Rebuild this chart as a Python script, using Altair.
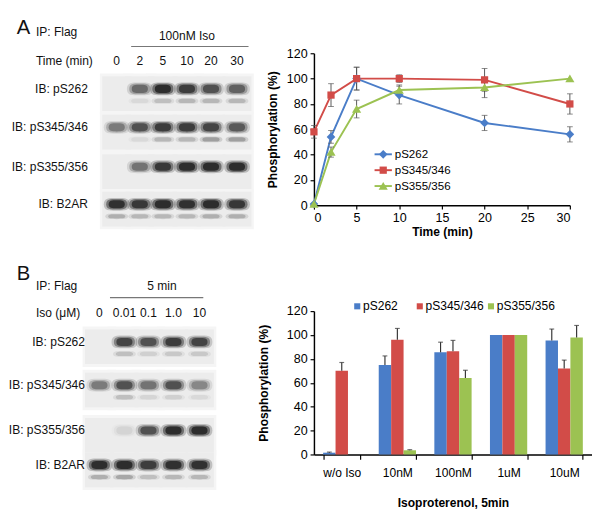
import altair as alt
import pandas as pd

FONT = "Liberation Sans"

# ---------------- Panel A: time course (100nM Iso) ----------------
time_min = [0, 2, 5, 10, 20, 30]
series_names = ["pS262", "pS345/346", "pS355/356"]
a_ps262 = [1, 54, 100, 87, 65, 56]
a_ps262_err = [0, 5, 9, 7, 6, 6]
a_ps345 = [58, 87, 100, 100, 99, 80]
a_ps345_err = [5, 9, 9, 3, 9, 8]
a_ps355 = [1, 42, 76, 91, 93, 100]
a_ps355_err = [0, 4, 7, 4, 8, 0]

# ---------------- Panel B: dose response (5 min) ----------------
conc_labels = ["w/o Iso", "10nM", "100nM", "1uM", "10uM"]
b_ps262 = [1.5, 75, 85.5, 100, 95.5]
b_ps262_err = [0.5, 7.5, 8.5, 0, 9.5]
b_ps345 = [70, 96, 86.5, 100, 72]
b_ps345_err = [7, 9.5, 9, 0, 7]
b_ps355 = [0, 3.5, 64, 100, 98]
b_ps355_err = [0, 0.5, 6.5, 0, 10]

# ---------------- Western blot band intensities (0-1) ----------------
blot_rows = ["IB: pS262", "IB: pS345/346", "IB: pS355/356", "IB: B2AR"]
blotA_lanes = ["0", "2", "5", "10", "20", "30"]
blotA_main = [[0, .55, 1, .85, .7, .6],
              [.45, .7, .85, .85, .8, .65],
              [0, .5, .9, 1, 1, 1],
              [.95, .9, 1, .95, 1, .9]]
blotA_lower = [[0, .1, .25, .3, .3, .3],
               [0, .1, .3, .3, .45, .45],
               [0, 0, 0, 0, 0, 0],
               [.35, .3, .3, .3, .35, .35]]
blotB_lanes = ["0", "0.01", "0.1", "1.0", "10"]
blotB_main = [[0, .8, .7, .85, .8],
              [.45, .7, .5, .7, .4],
              [0, .08, .7, 1, 1],
              [1, 1, .85, .95, .95]]
blotB_lower = [[0, .25, .15, .2, .2],
               [0, .25, .12, .15, .1],
               [0, 0, 0, 0, 0],
               [.35, .4, .25, .3, .3]]

line_colors = ["#4a7dc8", "#d24c48", "#9cc252"]
bar_colors = ["#4f81bd", "#c0504d", "#9bbb59"]
marker_paths = [
    "M0,-0.55L0.55,0L0,0.55L-0.55,0Z",
    "M-0.46,-0.46L0.46,-0.46L0.46,0.46L-0.46,0.46Z",
    "M0,-0.52L0.58,0.46L-0.58,0.46Z",
]
PILL = "M-1,0C-1,-0.5,-0.6,-0.5,0,-0.5C0.6,-0.5,1,-0.5,1,0C1,0.5,0.6,0.5,0,0.5C-0.6,0.5,-1,0.5,-1,0Z"
THIN = "M-1,0C-1,-0.25,-0.6,-0.25,0,-0.25C0.6,-0.25,1,-0.25,1,0C1,0.25,0.6,0.25,0,0.25C-0.6,0.25,-1,0.25,-1,0Z"
CELL = "M-1,-1.2L1,-1.2L1,1.2L-1,1.2Z"
YT = "Phosphorylation (%)"


def long_df(xname, xs, vals, errs):
    rows = []
    for s, v, e in zip(series_names, vals, errs):
        for x, vi, ei in zip(xs, v, e):
            rows.append({xname: x, "series": s, "val": vi, "err": ei})
    return pd.DataFrame(rows)


def label(t, x, y, align="left", size=12.5, weight="normal"):
    return alt.Chart(pd.DataFrame({"t": [t]})).mark_text(
        align=align, baseline="middle", font=FONT, fontSize=size, color="#111", fontWeight=weight
    ).encode(x=alt.value(x), y=alt.value(y), text="t:N")


def hrule(x1, x2, y):
    return alt.Chart(pd.DataFrame({"a": [0]})).mark_rule(color="#777", strokeWidth=1.2).encode(
        x=alt.value(x1), x2=alt.value(x2), y=alt.value(y))


def blot_panel(lanes, main, lower, lane_px, row_px, W, H, label_x, lane_y, headers, rule):
    recs = []
    for r in range(len(blot_rows)):
        for l in range(len(lanes)):
            recs.append({"ri": r, "li": l, "main": main[r][l], "lower": lower[r][l]})
    df = pd.DataFrame(recs)
    X = alt.X("li:Q", scale=alt.Scale(domain=list(range(len(lanes))), range=lane_px,
                                      nice=False, zero=False), axis=None)
    Y = alt.Y("ri:Q", scale=alt.Scale(domain=list(range(len(blot_rows))), range=row_px,
                                      nice=False, zero=False), axis=None)
    base = alt.Chart(df).encode(x=X, y=Y)
    op = lambda: alt.Opacity("o:Q", scale=None)
    layers = [
        base.mark_point(shape=CELL, size=1225, filled=True, color="#f5f5f5", opacity=1, yOffset=5),
        base.mark_point(shape=CELL, size=900, filled=True, color="#ececec", opacity=1, yOffset=5),
        base.transform_filter("datum.lower > 0").transform_calculate(o="datum.lower*0.3")
            .mark_point(shape=THIN, size=560, filled=True, color="#111", yOffset=12.5).encode(opacity=op()),
        base.transform_filter("datum.lower > 0").transform_calculate(o="datum.lower*0.55")
            .mark_point(shape=THIN, size=320, filled=True, color="#111", yOffset=12.5).encode(opacity=op()),
        base.transform_filter("datum.main > 0").transform_calculate(o="datum.main*0.22")
            .mark_point(shape=PILL, size=720, filled=True, color="#111").encode(opacity=op()),
        base.transform_filter("datum.main > 0").transform_calculate(o="datum.main*0.45")
            .mark_point(shape=PILL, size=480, filled=True, color="#111").encode(opacity=op()),
        base.transform_filter("datum.main > 0").transform_calculate(o="datum.main*0.7")
            .mark_point(shape=PILL, size=280, filled=True, color="#111").encode(opacity=op()),
        alt.Chart(pd.DataFrame({"ri": list(range(len(blot_rows))), "lab": blot_rows})).mark_text(
            align="right", baseline="middle", font=FONT, fontSize=12.5, color="#111"
        ).encode(x=alt.value(label_x), y=Y, text="lab:N"),
        alt.Chart(pd.DataFrame({"li": list(range(len(lanes))), "lab": lanes})).mark_text(
            align="center", baseline="middle", font=FONT, fontSize=12.5, color="#111"
        ).encode(x=X, y=alt.value(lane_y), text="lab:N"),
        hrule(*rule),
    ]
    for h in headers:
        layers.append(label(*h))
    return alt.layer(*layers).properties(width=W, height=H)


# ---------------- Line chart (A) ----------------
dfA = long_df("time", time_min, [a_ps262, a_ps345, a_ps355], [a_ps262_err, a_ps345_err, a_ps355_err])
xA = alt.X("time:Q", scale=alt.Scale(domain=[0, 30], nice=False, zero=False),
           axis=alt.Axis(values=[0, 5, 10, 15, 20, 25, 30], title="Time (min)", titlePadding=1))
yA_scale = alt.Scale(domain=[0, 120], nice=False)
yA_axis = alt.Axis(values=[0, 20, 40, 60, 80, 100, 120], titlePadding=7)
colA = alt.Scale(domain=series_names, range=line_colors)
shpA = alt.Scale(domain=series_names, range=marker_paths)
baseA = alt.Chart(dfA)
linesA = baseA.mark_line(strokeWidth=2).encode(
    x=xA, y=alt.Y("val:Q", scale=yA_scale, axis=yA_axis, title=YT),
    color=alt.Color("series:N", scale=colA, legend=None))
errA = baseA.transform_filter("datum.err > 0").transform_calculate(
    lo="datum.val - datum.err", hi="datum.val + datum.err")
errA_rule = errA.mark_rule(color="#555", strokeWidth=1).encode(
    x=xA, y=alt.Y("lo:Q", scale=yA_scale, axis=yA_axis, title=YT), y2="hi:Q")
errA_hi = errA.mark_tick(orient="horizontal", size=6, thickness=1, color="#555").encode(
    x=xA, y=alt.Y("hi:Q", scale=yA_scale, axis=yA_axis, title=YT))
errA_lo = errA.mark_tick(orient="horizontal", size=6, thickness=1, color="#555").encode(
    x=xA, y=alt.Y("lo:Q", scale=yA_scale, axis=yA_axis, title=YT))
pointsA = baseA.mark_point(filled=True, size=268, opacity=1).encode(
    x=xA, y=alt.Y("val:Q", scale=yA_scale, axis=yA_axis, title=YT),
    fill=alt.Fill("series:N", scale=colA, legend=None),
    shape=alt.Shape("series:N", scale=shpA, legend=None))
legA = []
for s, yy in zip(series_names, [105, 121.5, 138]):
    d = alt.Chart(pd.DataFrame({"series": [s]}))
    legA.append(d.mark_rule(strokeWidth=2).encode(
        x=alt.value(63), x2=alt.value(81), y=alt.value(yy),
        color=alt.Color("series:N", scale=colA, legend=None)))
    legA.append(d.mark_point(filled=True, size=268, opacity=1).encode(
        x=alt.value(72), y=alt.value(yy),
        fill=alt.Fill("series:N", scale=colA, legend=None),
        shape=alt.Shape("series:N", scale=shpA, legend=None)))
    legA.append(d.mark_text(align="left", baseline="middle", font=FONT, fontSize=12, color="black").encode(
        x=alt.value(84), y=alt.value(yy), text="series:N"))
lineA = alt.layer(linesA, errA_rule, errA_hi, errA_lo, pointsA, *legA).properties(width=266, height=158)

# ---------------- Bar chart (B) ----------------
dfB = long_df("conc", conc_labels, [b_ps262, b_ps345, b_ps355], [b_ps262_err, b_ps345_err, b_ps355_err])
xB = alt.X("conc:N", sort=conc_labels, scale=alt.Scale(paddingInner=0.33, paddingOuter=0.165),
           axis=alt.Axis(labelAngle=0, title="Isoproterenol, 5min", tickBand="extent", tickSize=5,
                         labelPadding=8, titlePadding=19, labelFontSize=12.5))
xoB = alt.XOffset("series:N", sort=series_names)
yB_scale = alt.Scale(domain=[0, 120], nice=False)
yB_axis = alt.Axis(values=[0, 20, 40, 60, 80, 100, 120], titlePadding=17)
colB = alt.Scale(domain=series_names, range=bar_colors)
baseB = alt.Chart(dfB)
barsB = baseB.mark_bar().encode(
    x=xB, xOffset=xoB, y=alt.Y("val:Q", scale=yB_scale, axis=yB_axis, title=YT),
    color=alt.Color("series:N", scale=colB, legend=None))
errB = baseB.transform_filter("datum.err > 0").transform_calculate(hi="datum.val + datum.err")
errB_rule = errB.mark_rule(color="#333", strokeWidth=1.2).encode(
    x=xB, xOffset=xoB, y=alt.Y("val:Q", scale=yB_scale, axis=yB_axis, title=YT), y2="hi:Q")
errB_cap = errB.mark_tick(size=5, thickness=1.2, color="#333").encode(
    x=xB, xOffset=xoB, y=alt.Y("hi:Q", scale=yB_scale, axis=yB_axis, title=YT))
legB = []
for s, xx in zip(series_names, [45, 110, 184]):
    d = alt.Chart(pd.DataFrame({"series": [s]}))
    legB.append(d.mark_point(shape="square", filled=True, size=40, opacity=1).encode(
        x=alt.value(xx), y=alt.value(-5),
        color=alt.Color("series:N", scale=colB, legend=None)))
    legB.append(d.mark_text(align="left", baseline="middle", font=FONT, fontSize=12.5, color="black").encode(
        x=alt.value(xx + 6), y=alt.value(-5), text="series:N"))
barB = alt.layer(barsB, errB_rule, errB_cap, *legB).properties(width=289, height=149)

# ---------------- Blots ----------------
blotA = blot_panel(
    blotA_lanes, blotA_main, blotA_lower,
    lane_px=[104, 128, 152, 177, 202, 229], row_px=[37, 77, 118, 157],
    W=278, H=158, label_x=74, lane_y=8,
    headers=[("A", 0, -26, "left", 21), ("IP: Flag", 20, -22), ("100nM Iso", 177, -18, "center"),
             ("Time (min)", 20, 8)],
    rule=(119, 241, -7))
blotB = blot_panel(
    blotB_lanes, blotB_main, blotB_lower,
    lane_px=[86, 112, 137, 163, 190], row_px=[32, 77, 124, 160],
    W=262, H=149, label_x=71, lane_y=2,
    headers=[("B", 0, -38, "left", 21), ("IP: Flag", 20, -26), ("5 min", 151, -26, "center"),
             ("Iso (μM)", 20, 2)],
    rule=(97, 194, -14))

chart = alt.concat(blotA, lineA, blotB, barB, columns=2, spacing={"row": 110, "column": 31},
                   bounds="flush", align={"row": "each", "column": "none"}).properties(
    padding=0, background="white"
).configure_view(stroke=None).configure_axis(
    labelFont=FONT, labelFontSize=13, labelColor="black", titleFont=FONT, titleFontSize=12.5,
    titleFontWeight="bold", titleColor="black", domainColor="black", domainWidth=1.5,
    tickColor="black", tickWidth=1.2, tickSize=4, labelPadding=3, grid=False
)

chart.save("out.html", embed_options={"renderer": "svg", "actions": False})
